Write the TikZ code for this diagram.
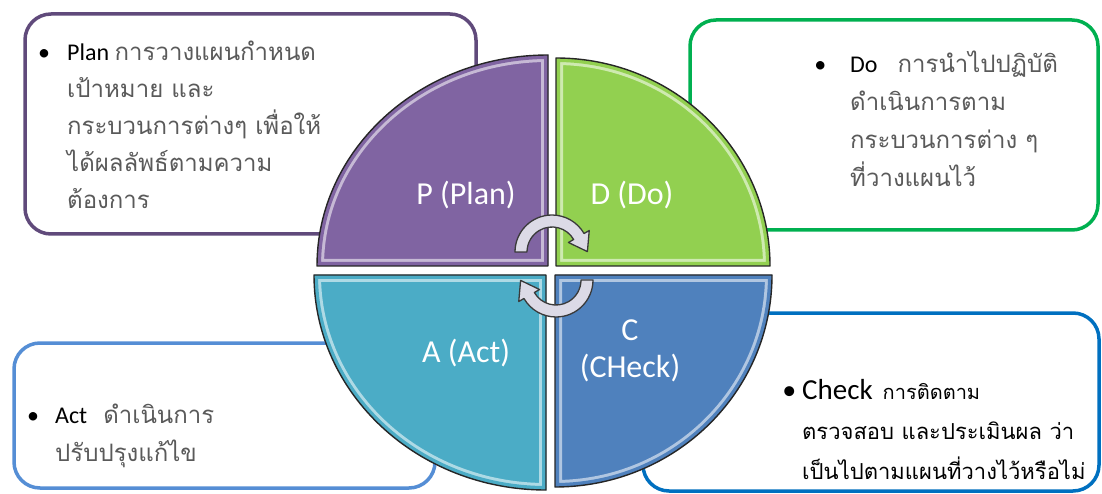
\documentclass[tikz,border=0pt]{standalone}
\usepackage{fontspec}
\setmainfont{Carlito}
\newfontfamily\thaifont[Script=Thai]{Loma}
\usetikzlibrary{positioning}
\definecolor{PlanA}{HTML}{604A7B}
\definecolor{PlanB}{HTML}{8064A2}
\definecolor{DoA}{HTML}{00B050}
\definecolor{DoB}{HTML}{92D050}
\definecolor{ActA}{HTML}{558ED5}
\definecolor{ActB}{HTML}{4BACC6}
\definecolor{CheckA}{HTML}{0070C0}
\definecolor{CheckB}{HTML}{4F81BD}
\definecolor{GrayT}{HTML}{5A5A5A}
\definecolor{CycFill}{HTML}{DCDAE6}
\definecolor{CycLine}{HTML}{3A3A3A}
\tikzset{
  box/.style={draw, rounded corners=26pt, line width=3.5pt, fill=white, inner sep=0pt},
  boxtext/.style={anchor=base west, align=left, inner sep=0pt,
                  font=\fontsize{24}{38}\selectfont},
  quadlbl/.style={text=white, font=\fontsize{32}{37}\selectfont, align=center, inner sep=0pt},
  quadline/.style={draw=black!85, line width=1.4pt, line join=round},
  cyc/.style={fill=CycFill, draw=CycLine, line width=1.3pt, line join=round},
  cycarrow/.pic={
    \draw[cyc] (180:37) arc[start angle=180, end angle=30, radius=37] -- (30:43)
      -- (35.4,0.4) -- (30:19) -- (30:25) arc[start angle=30, end angle=180, radius=25] -- cycle;
  },
}
\newcommand{\thw}[1]{{\thaifont\color{GrayT}#1}}
\newcommand{\pdcaquad}[7]{%
  \begin{scope}[shift={(#2,#3)}, xscale=#4, yscale=#5]
    \fill[#1] (0,0) -- (#6,0) arc[start angle=0, end angle=90, x radius=#6, y radius=#7] -- cycle;
    \begin{scope}
      \clip (0,0) -- (#6,0) arc[start angle=0, end angle=90, x radius=#6, y radius=#7] -- cycle;
      \draw[line width=14pt, #1!45!white] (0,0) -- (#6,0)
        arc[start angle=0, end angle=90, x radius=#6, y radius=#7] -- cycle;
      \draw[line width=8pt, #1] (0,0) -- (#6,0)
        arc[start angle=0, end angle=90, x radius=#6, y radius=#7] -- cycle;
    \end{scope}
    \draw[quadline] (0,0) -- (#6,0) arc[start angle=0, end angle=90, x radius=#6, y radius=#7] -- cycle;
  \end{scope}}

\begin{document}
\begin{tikzpicture}[x=1pt, y=1pt]
  \useasboundingbox (0,0) rectangle (1102,493);

  \node[box, draw=PlanA,  minimum width=451pt, minimum height=220pt] (planbox)  at (250.5,369) {};
  \node[box, draw=DoA,    minimum width=408pt, minimum height=210pt] (dobox)    at (894,368) {};
  \node[box, draw=ActA,   minimum width=421pt, minimum height=145pt] (actbox)   at (224.5,77.5) {};
  \node[box, draw=CheckA, minimum width=456pt, minimum height=178pt] (checkbox) at (871,91) {};

  \node[boxtext, font=\fontsize{24}{37}\selectfont] (plantext) at (67,284)
    {\llap{\textbullet\hspace{17pt}}Plan \thw{การวางแผนกำหนด}\\
     \thw{เป้าหมาย และ}\\
     \thw{กระบวนการต่างๆ  เพื่อให้}\\
     \thw{ได้ผลลัพธ์ตามความ}\\
     \thw{ต้องการ}};
  \node[boxtext] (dotext) at (850,306)
    {\llap{\textbullet\hspace{24pt}}Do\hspace{20pt}\thw{การนำไปปฏิบัติ}\\
     \thw{ดำเนินการตาม}\\
     \thw{กระบวนการต่าง ๆ}\\
     \thw{ที่วางแผนไว้}};
  \node[boxtext] (acttext) at (55,32)
    {\llap{\textbullet\hspace{16pt}}Act\hspace{16pt}\thw{ดำเนินการ}\\
     \thw{ปรับปรุงแก้ไข}};
  \node[boxtext, font=\fontsize{22}{40}\selectfont] (checktext) at (802,14)
    {\llap{{\fontsize{28}{30}\selectfont\textbullet}\hspace{6pt}}{\fontsize{29}{30}\selectfont Check}\ \
     {\thaifont\fontsize{20}{30}\selectfont การติดตาม}\\
     {\thaifont ตรวจสอบ  และประเมินผล ว่า}\\
     {\thaifont เป็นไปตามแผนที่วางไว้หรือไม่}};

  \pdcaquad{PlanB}{548}{227}{-1}{1}{231}{211}
  \pdcaquad{DoB}{556}{227}{1}{1}{214}{208}
  \pdcaquad{ActB}{546}{218}{-1}{-1}{232}{215}
  \pdcaquad{CheckB}{555}{218}{1}{-1}{217}{212}

  \node[quadlbl] (plan)  at (466,298) {P (Plan)};
  \node[quadlbl] (do)    at (632,298) {D (Do)};
  \node[quadlbl] (act)   at (466,140) {A (Act)};
  \node[quadlbl] (check) at (630,142) {C\\(CHeck)};

  \pic (cyctop) at (552,241) {cycarrow};
  \pic[rotate=180] (cycbot) at (556,213) {cycarrow};
\end{tikzpicture}
\end{document}
